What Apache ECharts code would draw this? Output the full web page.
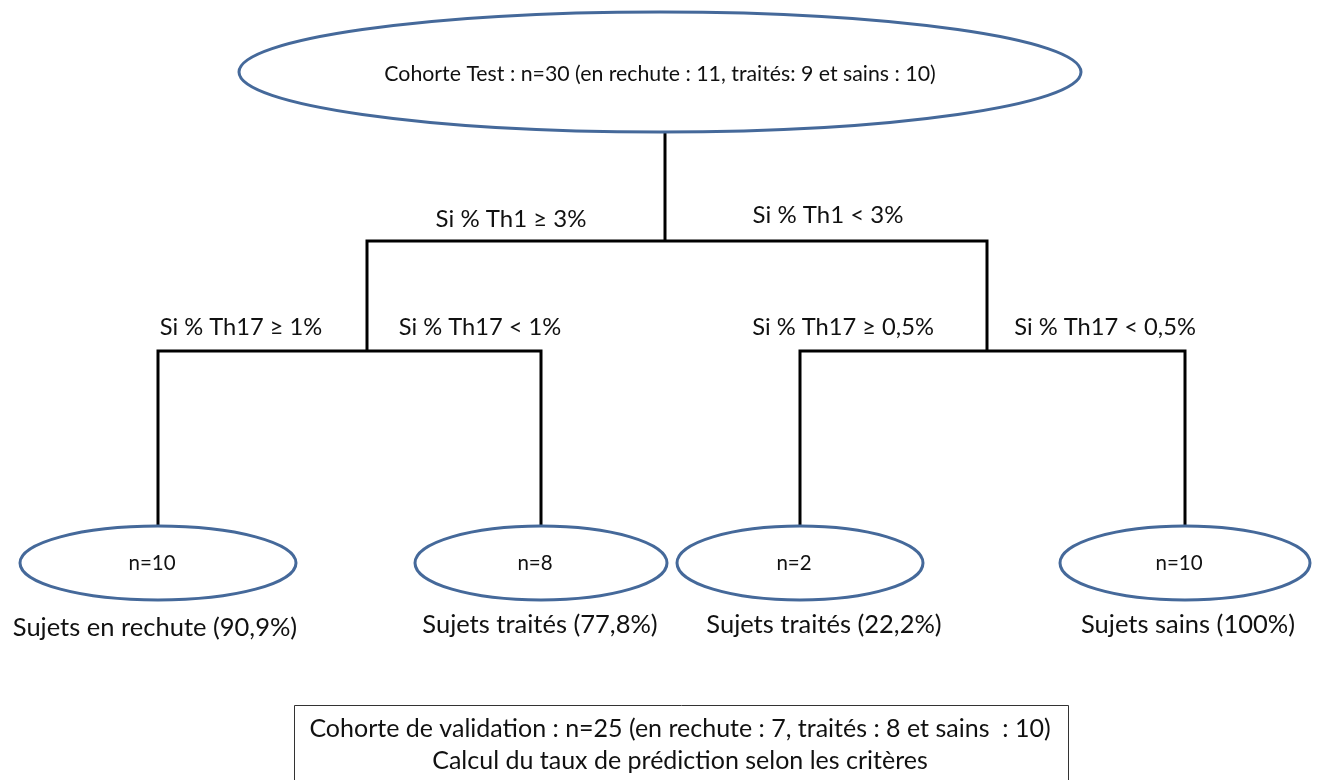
<!DOCTYPE html>
<html><head><meta charset="utf-8">
<script src="https://cdn.jsdelivr.net/npm/echarts@6/dist/echarts.min.js"></script>
<style>html,body{margin:0;padding:0;background:#fff}#c{width:1321px;height:780px}</style>
</head><body><div id="c"></div>
<script>
// ---- data ----
const rootText = 'Cohorte Test : n=30 (en rechute : 11, traités: 9 et sains : 10)';
const firstSplit = ['Si % Th1 ≥ 3%', 'Si % Th1 < 3%'];
const secondSplit = ['Si % Th17 ≥ 1%', 'Si % Th17 < 1%', 'Si % Th17 ≥ 0,5%', 'Si % Th17 < 0,5%'];
const leafCounts = [10, 8, 2, 10];
const leafGroups = ['Sujets en rechute', 'Sujets traités', 'Sujets traités', 'Sujets sains'];
const leafRates = ['90,9%', '77,8%', '22,2%', '100%'];
const validationLines = ['Cohorte de validation : n=25 (en rechute : 7, traités : 8 et sains  : 10)',
                         'Calcul du taux de prédiction selon les critères'];

// ---- layout (hidden axes span the page in pixel units) ----
const L = {
  root: {x: 660, y: 72, rx: 421, ry: 60, stemX: 665, textX: 660, textY: 74},
  split1Y: 241, branchX: [367, 987], split2Y: 351,
  leafX: [158, 541, 800, 1185], leafY: 563, leafRx: [138, 126, 123, 125], leafRy: 37, leafTextDx: -6,
  firstLabel: [[511, 219], [828, 215]],
  secondLabel: [[241, 327], [480, 327], [843, 327], [1105, 327]],
  caption: [[155, 628], [540, 625], [824, 625], [1188, 625]],
  box: {x1: 294, y1: 705, x2: 1068, y2: 795},
  boxText: [[680, 729], [680, 761]]
};
const FONT = 'Lato, "Open Sans", sans-serif';
const ELLIPSE_COLOR = '#45699a';

const edges = [];
edges.push([[L.root.stemX, L.root.y + L.root.ry], [L.root.stemX, L.split1Y]]);
L.branchX.forEach(bx => edges.push([[L.root.stemX, L.split1Y], [bx, L.split1Y], [bx, L.split2Y]]));
L.leafX.forEach((lx, i) => {
  const bx = L.branchX[Math.floor(i / 2)];
  edges.push([[bx, L.split2Y], [lx, L.split2Y], [lx, L.leafY - L.leafRy]]);
});

const ellipses = [{cx: L.root.x, cy: L.root.y, rx: L.root.rx, ry: L.root.ry, text: rootText, tx: L.root.textX, ty: L.root.textY, fs: 21.3}];
leafCounts.forEach((n, i) => ellipses.push({cx: L.leafX[i], cy: L.leafY, rx: L.leafRx[i], ry: L.leafRy,
  text: 'n=' + n, tx: L.leafX[i] + L.leafTextDx, ty: L.leafY, fs: 20.5}));

const texts = [];
firstSplit.forEach((t, i) => texts.push({t, p: L.firstLabel[i], fs: 24}));
secondSplit.forEach((t, i) => texts.push({t, p: L.secondLabel[i], fs: 23.7}));
leafGroups.forEach((g, i) => texts.push({t: g + ' (' + leafRates[i] + ')', p: L.caption[i], fs: 25.5}));
validationLines.forEach((t, i) => texts.push({t, p: L.boxText[i], fs: 25}));

const chart = echarts.init(document.getElementById('c'));
chart.setOption({
  animation: false,
  grid: {left: 0, right: 0, top: 0, bottom: 0},
  xAxis: {type: 'value', min: 0, max: 1321, show: false},
  yAxis: {type: 'value', min: 0, max: 780, inverse: true, show: false},
  series: [
    {
      type: 'custom', coordinateSystem: 'cartesian2d', data: edges.map((e, i) => [i]),
      renderItem: (params, api) => ({
        type: 'polyline',
        shape: {points: edges[params.dataIndex].map(p => api.coord(p))},
        style: {stroke: '#000', lineWidth: 3, fill: null, lineJoin: 'miter'}
      })
    },
    {
      type: 'custom', coordinateSystem: 'cartesian2d', data: [[0]],
      renderItem: (params, api) => {
        const a = api.coord([L.box.x1, L.box.y1]), b = api.coord([L.box.x2, L.box.y2]);
        return {type: 'rect', shape: {x: a[0] + 0.5, y: a[1] + 0.5, width: b[0] - a[0], height: b[1] - a[1]},
          style: {fill: '#fff', stroke: '#333', lineWidth: 1}};
      }
    },
    {
      type: 'custom', coordinateSystem: 'cartesian2d', data: ellipses.map((e, i) => [i]),
      renderItem: (params, api) => {
        const e = ellipses[params.dataIndex];
        const c = api.coord([e.cx, e.cy]);
        const tc = api.coord([e.tx, e.ty]);
        const s = api.size([e.rx, e.ry]);
        return {type: 'group', children: [
          {type: 'ellipse', shape: {cx: c[0], cy: c[1], rx: s[0], ry: s[1]},
            style: {fill: '#fff', stroke: ELLIPSE_COLOR, lineWidth: 3}},
          {type: 'text', style: {text: e.text, x: tc[0], y: tc[1], align: 'center', verticalAlign: 'middle',
            fill: '#111', font: e.fs + 'px ' + FONT}}
        ]};
      }
    },
    {
      type: 'custom', coordinateSystem: 'cartesian2d', data: texts.map((e, i) => [i]),
      renderItem: (params, api) => {
        const t = texts[params.dataIndex];
        const c = api.coord(t.p);
        return {type: 'text', style: {text: t.t, x: c[0], y: c[1], align: 'center', verticalAlign: 'middle',
          fill: '#111', font: t.fs + 'px ' + FONT}};
      }
    }
  ]
});
</script></body></html>
